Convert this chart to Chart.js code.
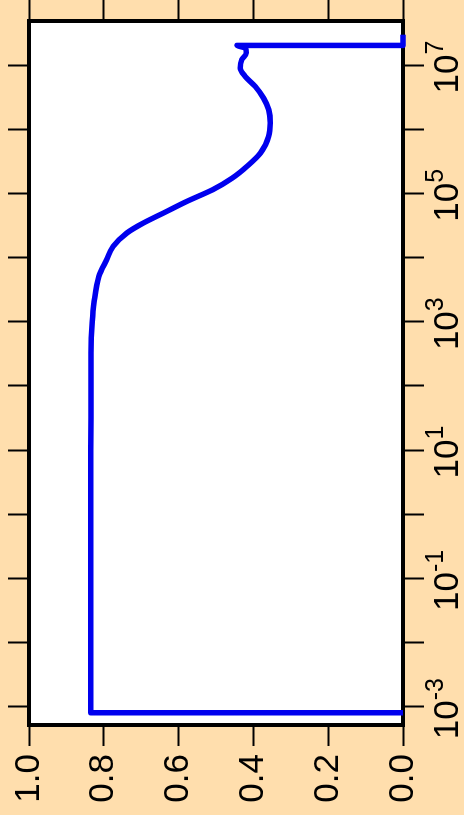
<!DOCTYPE html>
<html>
<head>
<meta charset="utf-8">
<script src="https://cdn.jsdelivr.net/npm/chart.js@4.4.1/dist/chart.umd.min.js"></script>
<style>
  html, body { margin: 0; padding: 0; width: 464px; height: 815px; overflow: hidden; background: #FFDEAD; }
  /* the plot is laid out landscape and turned a quarter turn counter-clockwise */
  #wrap { position: absolute; left: 0; top: 0; width: 815px; height: 464px;
          transform-origin: 0 0; transform: translate(0px, 815px) rotate(-90deg); }
</style>
</head>
<body>
<div id="wrap"><canvas id="c" width="815" height="464"></canvas></div>
<script>
// frequency (log axis) and response (linear axis, 0..1)
const frequency = [
  8.05e-4, 8.05e-4, 1e-2, 1e-1, 1, 10, 100, 329, 1000, 2000, 5090, 9330,
  1.49e4, 2.42e4, 3.46e4, 4.95e4, 7.5e4, 1.14e5, 1.74e5, 2.64e5,
  4.26e5, 7.73e5, 1.25e6, 2.01e6, 3.06e6, 4.64e6, 6.64e6, 8.98e6,
  1.21e7, 1.54e7, 1.84e7, 2.02e7, 2.02e7, 2.97e7
];
const response = [
  0, 0.835, 0.835, 0.835, 0.835, 0.835, 0.834, 0.834, 0.831, 0.826, 0.813, 0.792,
  0.775, 0.738, 0.694, 0.640, 0.578, 0.509, 0.456, 0.417,
  0.381, 0.359, 0.355, 0.359, 0.373, 0.395, 0.422, 0.435,
  0.431, 0.419, 0.422, 0.444, 0, 0
];

const valueTicks = [0, 0.2, 0.4, 0.6, 0.8, 1.0];
const decadeExponents = [-3, -2, -1, 0, 1, 2, 3, 4, 5, 6, 7];
const labelledExponents = [-3, -1, 1, 3, 5, 7];

const logMin = Math.pow(10, -3.285);
const logMax = Math.pow(10, 7.686);

const FONT = '"Liberation Sans", Arial, Helvetica, sans-serif';
const BG = '#FFDEAD';
const LINE = '#0000ee';

const tickGrid = { drawOnChartArea: false, drawTicks: true, tickLength: 21, tickWidth: 2, color: '#000' };

function decadeTicks(scale) {
  scale.ticks = decadeExponents.map(e => ({ value: Math.pow(10, e) }));
}
function valueTickList(scale) {
  scale.ticks = valueTicks.map(v => ({ value: v }));
}

const framePlugin = {
  id: 'frame',
  beforeDraw(chart) {
    const { ctx, chartArea: a } = chart;
    ctx.save();
    ctx.fillStyle = BG;
    ctx.fillRect(0, 0, chart.width, chart.height);
    ctx.fillStyle = '#ffffff';
    ctx.fillRect(a.left, a.top, a.right - a.left, a.bottom - a.top);
    ctx.restore();
  },
  beforeDatasetsDraw(chart) {
    const { ctx, chartArea: a } = chart;
    ctx.save();
    ctx.strokeStyle = '#000';
    ctx.lineWidth = 4;
    ctx.strokeRect(a.left, a.top, a.right - a.left, a.bottom - a.top);
    ctx.restore();
  },
  afterDraw(chart) {
    // power-of-ten labels with raised exponents under the log axis
    const { ctx } = chart;
    const xs = chart.scales.x;
    const baseY = xs.top + 55;
    ctx.save();
    ctx.fillStyle = '#000';
    ctx.textAlign = 'left';
    ctx.textBaseline = 'alphabetic';
    labelledExponents.forEach(e => {
      const px = xs.getPixelForValue(Math.pow(10, e));
      const base = '10';
      const sup = String(e);
      ctx.font = '35px ' + FONT;
      const wb = ctx.measureText(base).width;
      ctx.font = '25px ' + FONT;
      const ws = ctx.measureText(sup).width;
      const start = px - (wb + ws) / 2 - 2;
      ctx.font = '35px ' + FONT;
      ctx.fillText(base, start, baseY);
      ctx.font = '25px ' + FONT;
      ctx.fillText(sup, start + wb, baseY - 15);
    });
    ctx.restore();
  }
};

new Chart(document.getElementById('c'), {
  type: 'scatter',
  data: {
    datasets: [{
      data: frequency.map((f, i) => ({ x: f, y: response[i] })),
      showLine: true,
      borderColor: LINE,
      backgroundColor: LINE,
      borderWidth: 5.5,
      pointRadius: 0,
      cubicInterpolationMode: 'monotone',
      borderJoinStyle: 'round',
      clip: false
    }]
  },
  options: {
    responsive: false,
    animation: false,
    devicePixelRatio: 1,
    layout: { padding: 0 },
    plugins: { legend: { display: false }, tooltip: { enabled: false } },
    scales: {
      x: {
        type: 'logarithmic', position: 'bottom', min: logMin, max: logMax,
        afterBuildTicks: decadeTicks,
        ticks: { display: false },
        grid: tickGrid, border: { display: false },
        afterFit: s => { s.height = 61; }
      },
      xTop: {
        type: 'logarithmic', position: 'top', axis: 'x', min: logMin, max: logMax,
        afterBuildTicks: decadeTicks,
        ticks: { display: false },
        grid: tickGrid, border: { display: false },
        afterFit: s => { s.height = 29; }
      },
      y: {
        type: 'linear', position: 'left', min: 0, max: 1,
        afterBuildTicks: valueTickList,
        ticks: {
          display: true, color: '#000', padding: 8,
          font: { family: FONT, size: 35 },
          callback: v => Number(v).toFixed(1)
        },
        grid: tickGrid, border: { display: false },
        afterFit: s => { s.width = 90; }
      },
      yRight: {
        type: 'linear', position: 'right', axis: 'y', min: 0, max: 1,
        afterBuildTicks: valueTickList,
        ticks: { display: false },
        grid: tickGrid, border: { display: false },
        afterFit: s => { s.width = 21; }
      }
    }
  },
  plugins: [framePlugin]
});
</script>
</body>
</html>
